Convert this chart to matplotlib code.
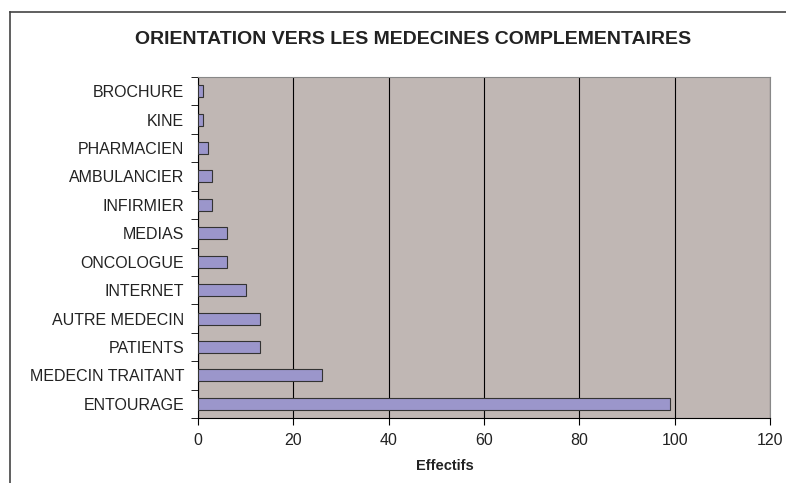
import matplotlib.pyplot as plt
import numpy as np
from matplotlib.lines import Line2D

plt.rcParams['font.family'] = ['Liberation Sans', 'DejaVu Sans']

categories = ['ENTOURAGE', 'MEDECIN TRAITANT', 'PATIENTS', 'AUTRE MEDECIN',
              'INTERNET', 'ONCOLOGUE', 'MEDIAS', 'INFIRMIER', 'AMBULANCIER',
              'PHARMACIEN', 'KINE', 'BROCHURE']
effectifs = [99, 26, 13, 13, 10, 6, 6, 3, 3, 2, 1, 1]
xticks = [0, 20, 40, 60, 80, 100, 120]

fig = plt.figure(figsize=(7.86, 4.83), dpi=100)
ax = fig.add_axes([198/786, 1 - 418/483, (770 - 198)/786, (418 - 77)/483])
ax.set_facecolor('#c0b7b4')

y = np.arange(len(categories))
ax.barh(y, effectifs, height=0.42, color='#9b96cb', edgecolor='#333333',
        linewidth=0.8, zorder=3)

ax.set_xlim(0, 120)
ax.set_ylim(-0.5, len(categories) - 0.5)
ax.set_xticks(xticks)
ax.set_xticklabels([str(v) for v in xticks], fontsize=11.5, color='#222222')
ax.set_yticks(y)
ax.set_yticklabels(categories, fontsize=11.5, color='#222222')
ax.tick_params(axis='y', length=0, pad=10)
ax.set_yticks(np.arange(-0.5, len(categories), 1), minor=True)
ax.tick_params(axis='y', which='minor', length=5, color='black', direction='out')
ax.tick_params(axis='x', length=5, color='black', direction='out', pad=6)
ax.grid(axis='x', color='black', linewidth=0.8, zorder=1)
ax.set_axisbelow(True)

for side in ['top', 'right']:
    ax.spines[side].set_color('#888888')
for side in ['left', 'bottom']:
    ax.spines[side].set_color('black')

fig.text(445/786, 1 - 466/483, 'Effectifs', ha='center', va='center',
         fontsize=10.5, fontweight='bold', color='#222222')

fig.text(413/786, 1 - 40/483, 'ORIENTATION VERS LES MEDECINES COMPLEMENTAIRES',
         ha='center', va='center', fontsize=14, fontweight='bold', color='#222222')

# outer frame
fig.add_artist(Line2D([10/786, 1], [1 - 12/483, 1 - 12/483], color='#444444', linewidth=1.2))
fig.add_artist(Line2D([10/786, 10/786], [1 - 12/483, 0], color='#444444', linewidth=1.2))

fig.savefig('out.png', dpi=100)
